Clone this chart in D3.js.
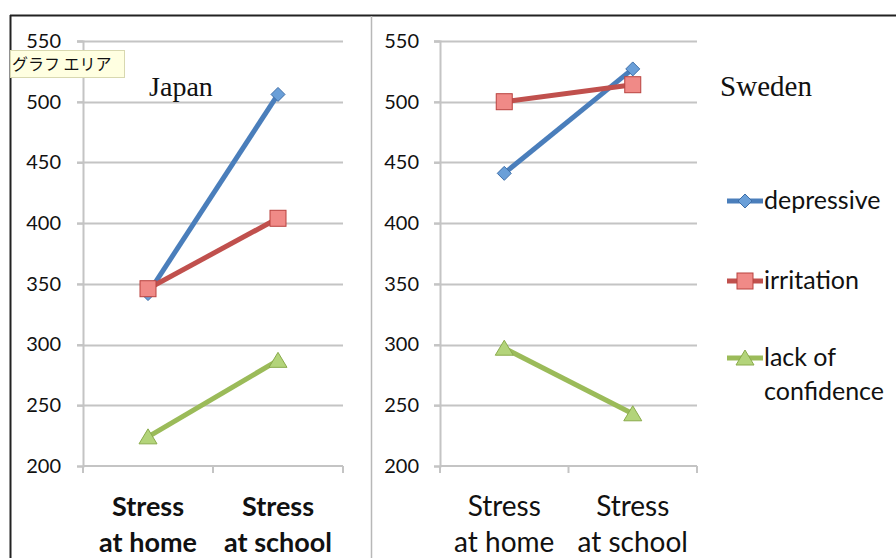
<!DOCTYPE html>
<html><head><meta charset="utf-8">
<script src="https://cdn.jsdelivr.net/npm/d3@7"></script>
<style>body{margin:0;background:#fff}svg{display:block}</style>
</head><body><svg id="c" width="896" height="558"></svg>
<script>
const categories = [["Stress","at home"],["Stress","at school"]];
const seriesNames = ["depressive","irritation","lack of confidence"];
const japanDepressive = [342, 506];
const japanIrritation = [346, 404];
const japanLack = [224, 287];
const swedenDepressive = [441, 527];
const swedenIrritation = [500, 514];
const swedenLack = [297, 243];
const yTicks = [200,250,300,350,400,450,500,550];

const colors = {line:["#4a7ebb","#c0504d","#9bbb59"], fill:["#6a9fd8","#f08a87","#b3d47a"], stroke:["#3d6ea8","#b9423f","#8aab4c"]};
const svg = d3.select("#c");
const font = "Lato, 'Open Sans', sans-serif";

// frame
svg.append("line").attr("x1",10).attr("x2",896).attr("y1",15.5).attr("y2",15.5).attr("stroke","#222").attr("stroke-width",2);
svg.append("line").attr("x1",10.5).attr("x2",10.5).attr("y1",15).attr("y2",558).attr("stroke","#222").attr("stroke-width",2);
svg.append("line").attr("x1",371.5).attr("x2",371.5).attr("y1",16).attr("y2",558).attr("stroke","#b8b8b8").attr("stroke-width",1.5);

const y = d3.scaleLinear().domain([200,550]).range([466,41]);

function marker(g, i, cx, cy){
  if(i===0){
    const r=7;
    g.append("path").attr("d",`M${cx},${cy-r}L${cx+r},${cy}L${cx},${cy+r}L${cx-r},${cy}Z`)
      .attr("fill",colors.fill[0]).attr("stroke",colors.stroke[0]).attr("stroke-width",1);
  } else if(i===1){
    const r=8;
    g.append("rect").attr("x",cx-r).attr("y",cy-r).attr("width",2*r).attr("height",2*r)
      .attr("fill",colors.fill[1]).attr("stroke",colors.stroke[1]).attr("stroke-width",1);
  } else {
    const r=8;
    g.append("path").attr("d",`M${cx},${cy-r}L${cx+r+1},${cy+r-1}L${cx-r-1},${cy+r-1}Z`)
      .attr("fill",colors.fill[2]).attr("stroke",colors.stroke[2]).attr("stroke-width",1);
  }
}

function panel(x0, x1, labelX, data, bold){
  const g = svg.append("g");
  const x = d3.scaleBand().domain([0,1]).range([x0,x1]);
  g.selectAll(".grid").data(yTicks.slice(1)).join("line")
    .attr("x1",x0-6).attr("x2",x1).attr("y1",d=>Math.round(y(d))+0.5).attr("y2",d=>Math.round(y(d))+0.5)
    .attr("stroke","#c4c4c4").attr("stroke-width",2);
  const ya = d3.axisLeft(y).tickValues(yTicks).tickSize(6).tickPadding(0).tickFormat(d3.format("d"));
  const ayg = g.append("g").attr("transform",`translate(${x0},0)`).call(ya);
  ayg.select(".domain").attr("stroke","#c4c4c4").attr("stroke-width",2);
  ayg.selectAll(".tick line").attr("stroke","#c4c4c4").attr("stroke-width",2);
  ayg.selectAll(".tick text").attr("x",-(x0-labelX)).attr("font-family",font).attr("font-size",20).attr("fill","#111").attr("text-anchor","end");
  const xa = d3.axisBottom(x).tickSize(0).tickFormat("");
  const axg = g.append("g").attr("transform",`translate(0,${y(200)})`).call(xa);
  axg.select(".domain").attr("stroke","#c4c4c4").attr("stroke-width",2).attr("d",`M${x0},0H${x1}`);
  axg.selectAll(".tick").remove();
  [x0, x0+x.bandwidth(), x1].forEach(t=>{
    g.append("line").attr("x1",t).attr("x2",t).attr("y1",y(200)).attr("y2",y(200)+7).attr("stroke","#c4c4c4").attr("stroke-width",2);
  });
  categories.forEach((c,k)=>{
    const cx = x(k)+x.bandwidth()/2;
    const t = g.append("text").attr("text-anchor","middle")
      .attr("font-family",font).attr("font-size",bold?27:28).attr("font-weight",bold?"bold":"normal").attr("fill","#111");
    t.append("tspan").attr("x",cx).attr("y",516).text(c[0]);
    t.append("tspan").attr("x",cx).attr("y",552).text(c[1]);
  });
  const line = d3.line().x((d,k)=>x(k)+x.bandwidth()/2).y(d=>y(d));
  data.forEach((vals,i)=>{
    g.append("path").attr("d",line(vals)).attr("fill","none").attr("stroke",colors.line[i]).attr("stroke-width",5);
  });
  [0,2,1].forEach(i=>{
    data[i].forEach((v,k)=>marker(g,i,x(k)+x.bandwidth()/2,y(v)));
  });
}

panel(83, 343, 61, [japanDepressive, japanIrritation, japanLack], true);
panel(440, 697, 419, [swedenDepressive, swedenIrritation, swedenLack], false);

const serif = "'Liberation Serif', 'Times New Roman', serif";
svg.append("text").attr("x",181).attr("y",96).attr("text-anchor","middle").attr("font-family",serif).attr("font-size",28).attr("fill","#111").text("Japan");
svg.append("text").attr("x",766).attr("y",96).attr("text-anchor","middle").attr("font-family",serif).attr("font-size",29).attr("fill","#111").text("Sweden");

const legY = [201, 281, 358];
seriesNames.forEach((n,i)=>{
  const g = svg.append("g");
  g.append("line").attr("x1",727).attr("x2",763).attr("y1",legY[i]).attr("y2",legY[i]).attr("stroke",colors.line[i]).attr("stroke-width",5);
  marker(g,i,745,legY[i]);
  const t = g.append("text").attr("font-family",font).attr("font-size",25).attr("fill","#111");
  if(i===2){
    t.append("tspan").attr("x",764).attr("y",legY[i]+8).text("lack of");
    t.append("tspan").attr("x",764).attr("y",legY[i]+42).text("confidence");
  } else {
    t.attr("x",764).attr("y",legY[i]+8).text(n);
  }
});

const tt = svg.append("g");
tt.append("rect").attr("x",10.5).attr("y",50.5).attr("width",114).attr("height",27).attr("fill","#ffffe1").attr("stroke","#d8d8b0").attr("stroke-width",1);
tt.append("text").attr("x",12).attr("y",70).attr("font-family","'Noto Sans CJK JP', sans-serif").attr("font-size",16).attr("fill","#111").text("グラフ エリア");
</script></body></html>
